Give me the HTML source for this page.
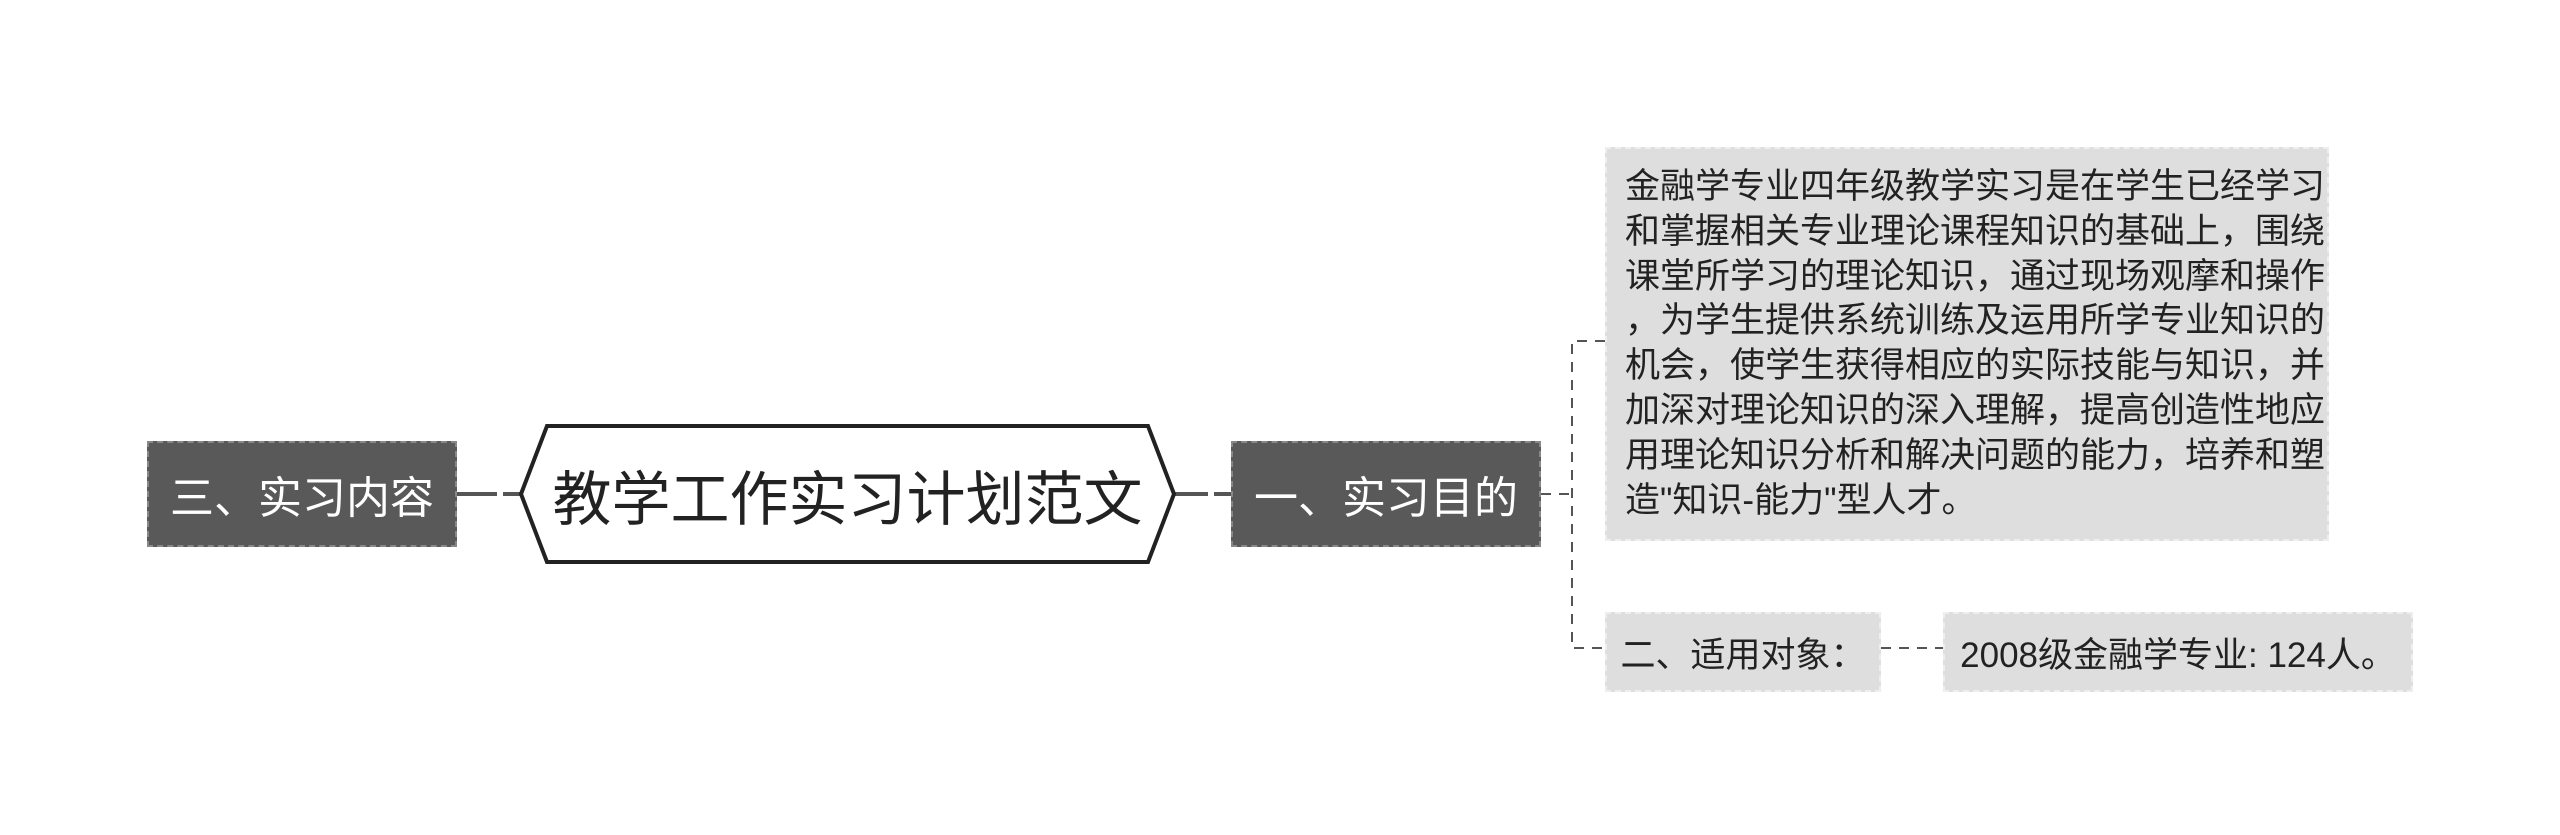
<!DOCTYPE html>
<html><head><meta charset="utf-8"><style>
body{margin:0;width:2560px;height:835px;background:#fff;position:relative;overflow:hidden;font-family:"Liberation Sans","Noto Sans CJK SC",sans-serif}
.n{position:absolute;box-sizing:border-box;display:flex;align-items:center;justify-content:center;white-space:nowrap}
.d{background:#595959;color:#fff;border:2px dashed #888;font-size:44px}
.l{background:#dedede;color:#222;border:2px dashed #eee}
</style></head><body>
<svg width="2560" height="835" style="position:absolute;left:0;top:0">
<g stroke="#555" stroke-width="4" fill="none">
<line x1="457" y1="494" x2="521" y2="494" stroke-dasharray="40 6"/>
<line x1="1174" y1="494" x2="1231" y2="494" stroke-dasharray="34 6"/>
</g>
<g stroke="#555" stroke-width="2" fill="none" stroke-dasharray="10 8">
<line x1="1541" y1="494" x2="1572" y2="494"/>
<polyline points="1605,341 1572,341 1572,648 1605,648"/>
<line x1="1881" y1="648" x2="1943" y2="648"/>
</g>
<polygon points="521,494 547,426 1148,426 1174,494 1148,562 547,562" fill="#fff" stroke="#222" stroke-width="4"/>
</svg>
<div class="n" style="left:521px;top:426px;width:653px;height:136px;font-size:59px;color:#222">教学工作实习计划范文</div>
<div class="n d" style="left:147px;top:441px;width:310px;height:106px">三、实习内容</div>
<div class="n d" style="left:1231px;top:441px;width:310px;height:106px">一、实习目的</div>
<div class="n l" style="left:1605px;top:147px;width:724px;height:394px;display:block;padding:16px 0 0 18px;font-size:35px;line-height:44.8px">金融学专业四年级教学实习是在学生已经学习<br>和掌握相关专业理论课程知识的基础上，围绕<br>课堂所学习的理论知识，通过现场观摩和操作<br>，为学生提供系统训练及运用所学专业知识的<br>机会，使学生获得相应的实际技能与知识，并<br>加深对理论知识的深入理解，提高创造性地应<br>用理论知识分析和解决问题的能力，培养和塑<br>造"知识-能力"型人才。</div>
<div class="n l" style="left:1605px;top:612px;width:276px;height:80px;font-size:35px">二、适用对象：</div>
<div class="n l" style="left:1943px;top:612px;width:470px;height:80px;font-size:35px">2008级金融学专业: 124人。</div>
</body></html>
